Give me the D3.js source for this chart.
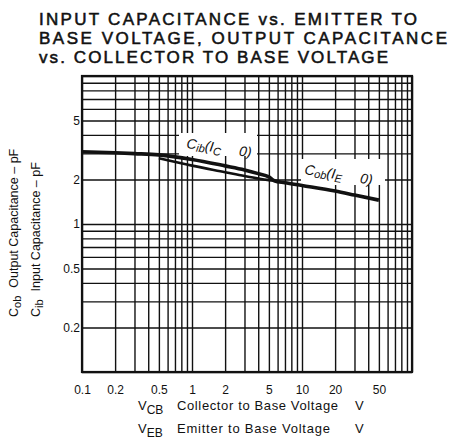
<!DOCTYPE html>
<html>
<head>
<meta charset="utf-8">
<script src="https://cdn.jsdelivr.net/npm/d3@7"></script>
<style>
  body { margin: 0; background: #fff; }
  text { font-family: "Liberation Sans", Arial, sans-serif; fill: #111; }
</style>
</head>
<body>
<div class="chart"></div>
<script>
// title lines
const titleLines = [
  "INPUT CAPACITANCE vs. EMITTER TO",
  "BASE VOLTAGE, OUTPUT CAPACITANCE",
  "vs. COLLECTOR TO BASE VOLTAGE"
];

// tick labels
const xTickLabels = [0.1, 0.2, 0.5, 1, 2, 5, 10, 20, 50];
const yTickLabels = [0.2, 0.5, 1, 2, 5];

// Cob (IE = 0) vs VCB
const cobV = [0.1, 0.2, 0.3, 0.5, 1, 2, 3, 4, 5, 5.6, 7, 10, 20, 30, 50];
const cobC = [3.08, 3.03, 2.99, 2.93, 2.73, 2.47, 2.32, 2.19, 2.08, 1.96, 1.9, 1.82, 1.67, 1.57, 1.45];

// Cib (IC = 0) vs VEB
const cibV = [0.5, 1, 2, 3, 4, 5, 5.6];
const cibC = [2.78, 2.48, 2.24, 2.11, 2.03, 1.98, 1.96];

const width = 453, height = 442;
const margin = ({top: 76, right: 41, bottom: 70, left: 82});
const plotW = width - margin.left - margin.right,
    plotH = height - margin.top - margin.bottom;

const svg = d3.select(".chart").append("svg")
    .attr("width", width)
    .attr("height", height);

// title
svg.selectAll(".title")
    .data(titleLines)
    .enter()
    .append("text")
    .attr("class", "title")
    .attr("x", 39)
    .attr("y", (d, i) => 25 + i * 19)
    .attr("font-size", 17)
    .attr("stroke", "#111")
    .attr("stroke-width", 0.55)
    .attr("textLength", (d, i) => [378, 408, 349][i])
    .attr("lengthAdjust", "spacing")
    .text(d => d);

const g = svg.append("g")
    .attr("transform", "translate(" + margin.left + "," + margin.top + ")");

const xScale = d3.scaleLog().domain([0.1, 100]).range([0, plotW]);
const yScale = d3.scaleLog().domain([0.1, 10]).range([plotH, 0]);

// grid
const xGrid = d3.axisBottom(xScale)
    .tickValues(xScale.ticks())
    .tickSize(-plotH)
    .tickFormat("");
const yGrid = d3.axisLeft(yScale)
    .tickValues(yScale.ticks())
    .tickSize(-plotW)
    .tickFormat("");

g.append("g")
    .attr("class", "grid x-grid")
    .attr("transform", "translate(0," + plotH + ")")
    .call(xGrid);
g.append("g")
    .attr("class", "grid y-grid")
    .call(yGrid);
g.selectAll(".grid .domain").remove();
g.selectAll(".grid line")
    .attr("stroke", "#111")
    .attr("stroke-width", 1.4);

// frame
g.append("rect")
    .attr("width", plotW)
    .attr("height", plotH)
    .attr("fill", "none")
    .attr("stroke", "#111")
    .attr("stroke-width", 2.2);

// tick labels
const xAxis = d3.axisBottom(xScale)
    .tickValues(xTickLabels)
    .tickSize(0)
    .tickPadding(13)
    .tickFormat(d => String(d));
g.append("g")
    .attr("class", "axis x-axis")
    .attr("transform", "translate(0," + plotH + ")")
    .call(xAxis);

const yAxis = d3.axisLeft(yScale)
    .tickValues(yTickLabels)
    .tickSize(0)
    .tickPadding(2)
    .tickFormat(d => String(d));
g.append("g")
    .attr("class", "axis y-axis")
    .call(yAxis);

g.selectAll(".axis .domain").remove();
g.selectAll(".axis text")
    .attr("font-family", "'Liberation Sans', Arial, sans-serif")
    .attr("font-size", 12)
    .attr("fill", "#111");

// white patches behind the curve labels
g.append("rect")
    .attr("x", 97).attr("y", 57)
    .attr("width", 78).attr("height", 23)
    .attr("fill", "#fff");
g.append("rect")
    .attr("x", 219).attr("y", 83)
    .attr("width", 84).attr("height", 26)
    .attr("fill", "#fff");

// curves
const line = d3.line()
    .x(d => xScale(d[0]))
    .y(d => yScale(d[1]))
    .curve(d3.curveMonotoneX);

g.append("path")
    .datum(cibV.map((v, i) => [v, cibC[i]]))
    .attr("fill", "none")
    .attr("stroke", "#111")
    .attr("stroke-width", 2.6)
    .attr("d", line);

g.append("path")
    .datum(cobV.map((v, i) => [v, cobC[i]]))
    .attr("fill", "none")
    .attr("stroke", "#111")
    .attr("stroke-width", 3.6)
    .attr("d", line);

// curve labels
function curveLabel(x, y, angle, main, sub, isub) {
  const t = g.append("text")
      .attr("transform", "translate(" + x + "," + y + ") rotate(" + angle + ")")
      .attr("font-size", 14)
      .attr("font-style", "italic");
  t.append("tspan").text(main);
  t.append("tspan").attr("font-size", 11).attr("dy", 2).text(sub);
  t.append("tspan").attr("dy", -2).text("(I");
  t.append("tspan").attr("font-size", 11).attr("dy", 3).text(isub);
  t.append("tspan").attr("dy", -3).text("\u2002\u2002 0)");
}
curveLabel(104, 72, 8, "C", "ib", "C");
curveLabel(222, 98, 9, "C", "ob", "E");

// x axis titles
const xTitles = [
  {sym: "V", sub: "CB", text: "Collector to Base Voltage", len: 161, unit: "V", y: 410},
  {sym: "V", sub: "EB", text: "Emitter to Base Voltage", len: 153, unit: "V", y: 433}
];
xTitles.forEach(d => {
  const t = svg.append("text")
      .attr("y", d.y)
      .attr("font-size", 13);
  t.append("tspan").attr("x", 138).text(d.sym);
  t.append("tspan").attr("dy", 4).attr("font-size", 12).text(d.sub);
  svg.append("text")
      .attr("x", 177)
      .attr("y", d.y)
      .attr("font-size", 13)
      .attr("textLength", d.len)
      .attr("lengthAdjust", "spacing")
      .text(d.text);
  svg.append("text")
      .attr("x", 355)
      .attr("y", d.y)
      .attr("font-size", 13)
      .text(d.unit);
});

// y axis titles
const yTitles = [
  {sub: "ob", text: "Output Capacitance \u2013 pF", x: 18},
  {sub: "ib", text: "Input Capacitance \u2013 pF", x: 40}
];
yTitles.forEach(d => {
  const t = svg.append("text")
      .attr("transform", "translate(" + d.x + ",317) rotate(-90)")
      .attr("font-size", 12.5);
  t.append("tspan").text("C");
  t.append("tspan").attr("dy", 3).attr("font-size", 11).text(d.sub);
  t.append("tspan").attr("dx", 8).attr("dy", -3).text(d.text);
});
</script>
</body>
</html>
